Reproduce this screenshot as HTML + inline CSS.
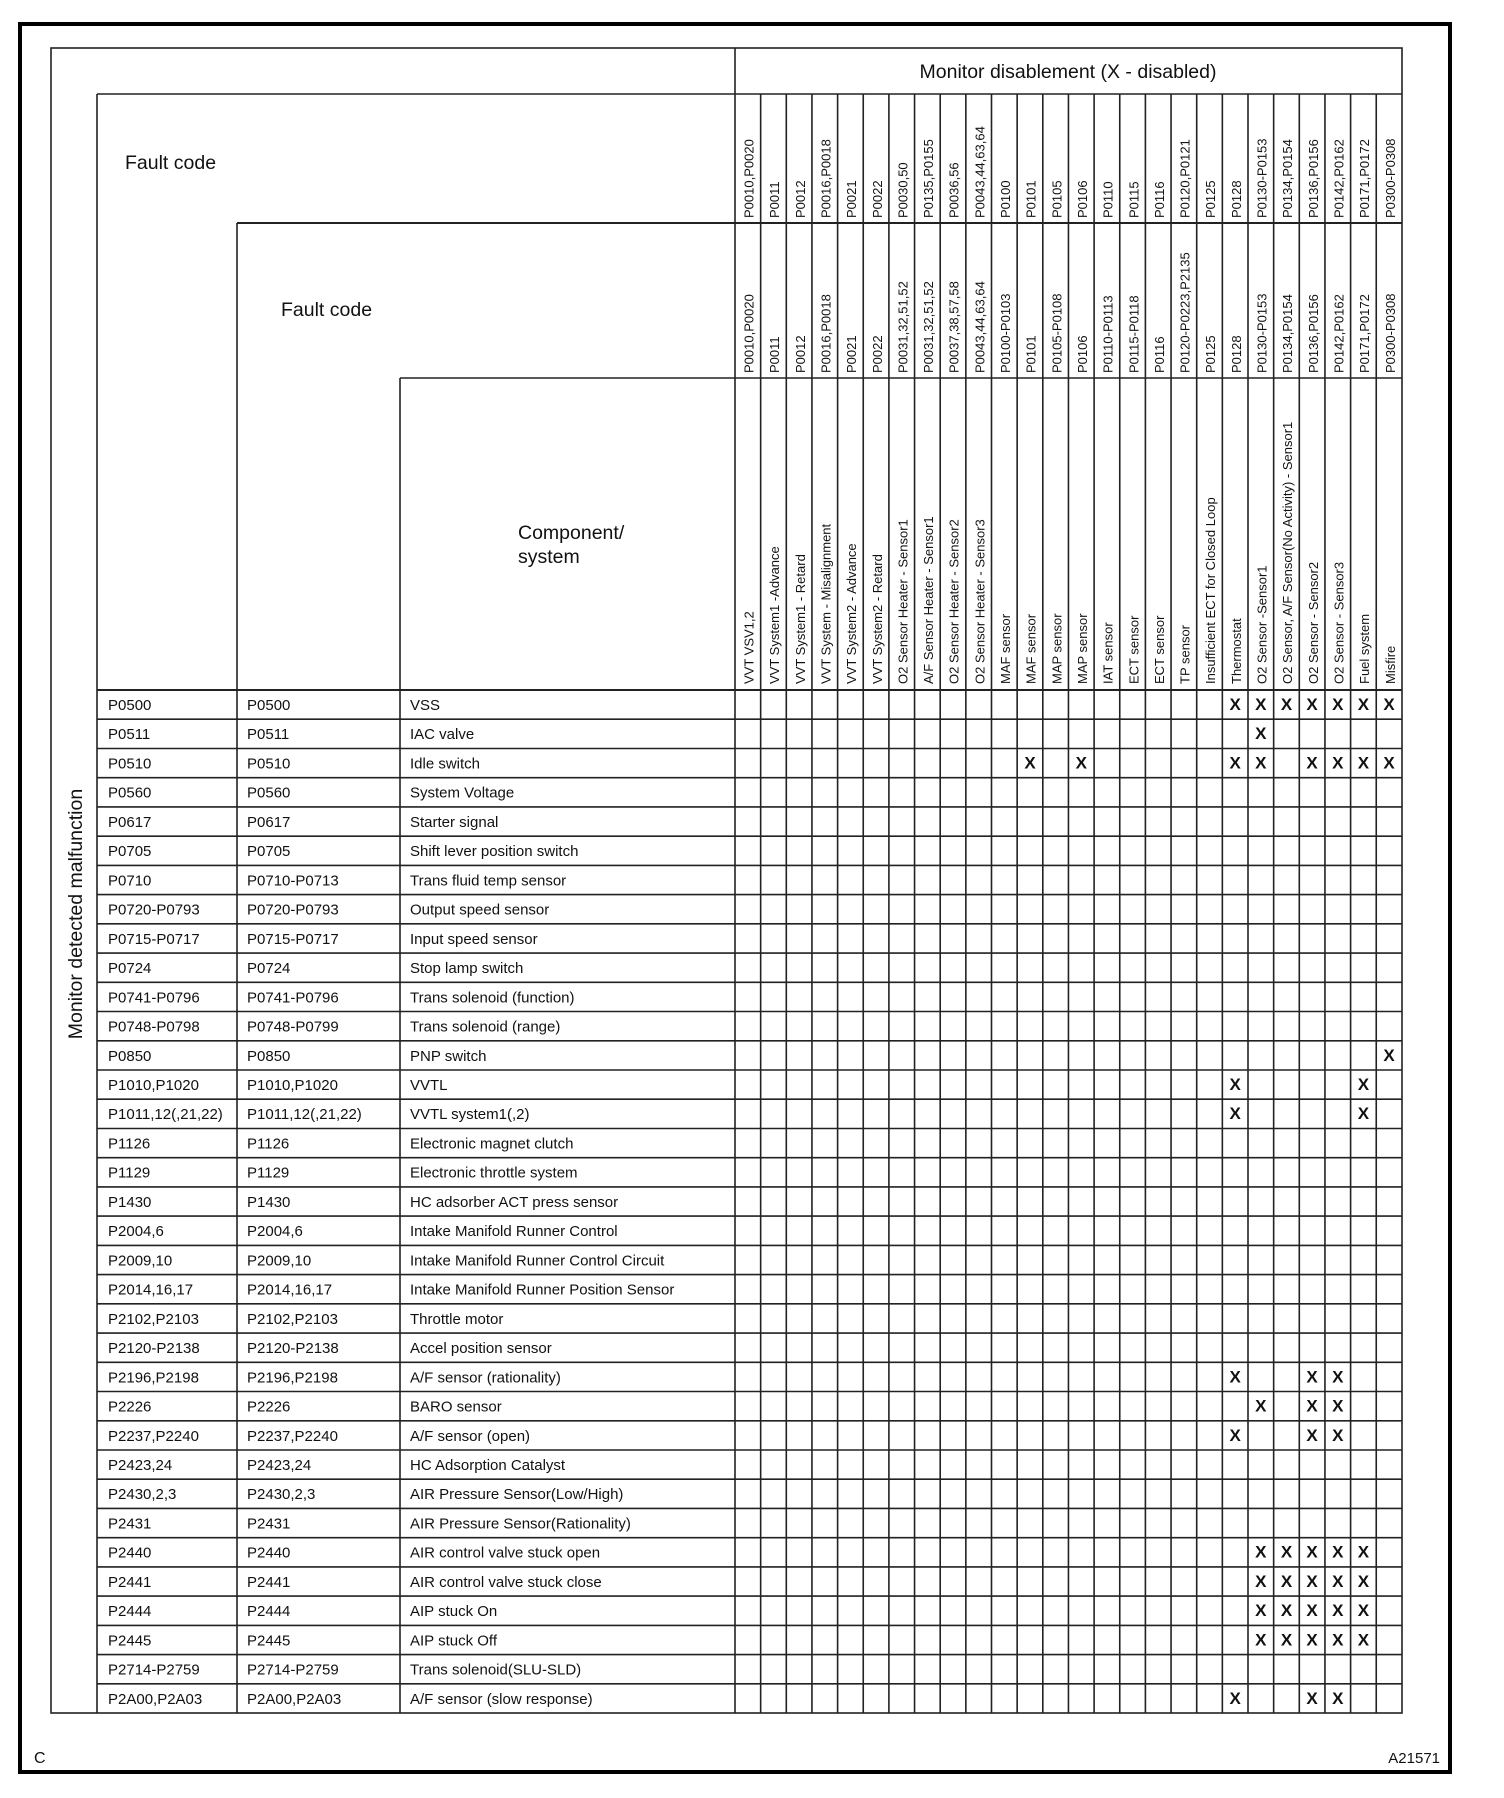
<!DOCTYPE html>
<html><head><meta charset="utf-8"><style>
html,body{margin:0;padding:0;background:#fff;}
svg{display:block;font-family:"Liberation Sans",sans-serif;}
.d{font-size:15px;fill:#111;}
.r{font-size:13px;fill:#111;}
.x{font-size:17px;font-weight:bold;fill:#111;text-anchor:middle;}
</style></head><body>
<svg width="1504" height="1798" viewBox="0 0 1504 1798" xmlns="http://www.w3.org/2000/svg">
<rect x="20" y="24" width="1430" height="1748" fill="none" stroke="#000" stroke-width="4"/>
<g stroke="#222" stroke-width="1.6" fill="none">
<rect x="51" y="48" width="1351" height="1665"/>
<line x1="735" y1="48" x2="735" y2="1713"/>
<line x1="97" y1="94" x2="1402" y2="94"/>
<line x1="97" y1="94" x2="97" y2="1713"/>
<line x1="237" y1="223" x2="1402" y2="223" stroke-width="2"/>
<line x1="237" y1="223" x2="237" y2="1713"/>
<line x1="400" y1="378" x2="1402" y2="378"/>
<line x1="400" y1="378" x2="400" y2="1713"/>
<line x1="97" y1="690" x2="1402" y2="690" stroke-width="2"/>
<path d="M760.65 94V1713M786.3 94V1713M811.95 94V1713M837.6 94V1713M863.25 94V1713M888.9 94V1713M914.55 94V1713M940.2 94V1713M965.85 94V1713M991.5 94V1713M1017.15 94V1713M1042.8 94V1713M1068.45 94V1713M1094.1 94V1713M1119.75 94V1713M1145.4 94V1713M1171.05 94V1713M1196.7 94V1713M1222.35 94V1713M1248 94V1713M1273.65 94V1713M1299.3 94V1713M1324.95 94V1713M1350.6 94V1713M1376.25 94V1713"/>
<path d="M97 719.2H1402M97 748.5H1402M97 777.7H1402M97 806.9H1402M97 836.2H1402M97 865.4H1402M97 894.6H1402M97 923.8H1402M97 953.1H1402M97 982.3H1402M97 1011.5H1402M97 1040.8H1402M97 1070H1402M97 1099.2H1402M97 1128.5H1402M97 1157.7H1402M97 1186.9H1402M97 1216.1H1402M97 1245.4H1402M97 1274.6H1402M97 1303.8H1402M97 1333.1H1402M97 1362.3H1402M97 1391.5H1402M97 1420.8H1402M97 1450H1402M97 1479.2H1402M97 1508.4H1402M97 1537.7H1402M97 1566.9H1402M97 1596.1H1402M97 1625.4H1402M97 1654.6H1402M97 1683.8H1402"/>
</g>
<text x="1068" y="78" font-size="19.5" text-anchor="middle" fill="#111">Monitor disablement (X - disabled)</text>
<text x="125" y="169" font-size="19.5" fill="#111">Fault code</text>
<text x="281" y="316" font-size="19.5" fill="#111">Fault code</text>
<text x="518" y="539" font-size="19.5" fill="#111">Component/</text>
<text x="518" y="563" font-size="19.5" fill="#111">system</text>
<text transform="translate(82,914) rotate(-90)" font-size="19.5" text-anchor="middle" fill="#111">Monitor detected malfunction</text>
<text x="34" y="1763" font-size="16" fill="#111">C</text>
<text x="1440" y="1763" font-size="15" text-anchor="end" fill="#111">A21571</text>

<g class="r">
<text transform="translate(753.5,218) rotate(-90)">P0010,P0020</text>
<text transform="translate(779.15,218) rotate(-90)">P0011</text>
<text transform="translate(804.8,218) rotate(-90)">P0012</text>
<text transform="translate(830.45,218) rotate(-90)">P0016,P0018</text>
<text transform="translate(856.1,218) rotate(-90)">P0021</text>
<text transform="translate(881.75,218) rotate(-90)">P0022</text>
<text transform="translate(907.4,218) rotate(-90)">P0030,50</text>
<text transform="translate(933.05,218) rotate(-90)">P0135,P0155</text>
<text transform="translate(958.7,218) rotate(-90)">P0036,56</text>
<text transform="translate(984.35,218) rotate(-90)">P0043,44,63,64</text>
<text transform="translate(1010,218) rotate(-90)">P0100</text>
<text transform="translate(1035.65,218) rotate(-90)">P0101</text>
<text transform="translate(1061.3,218) rotate(-90)">P0105</text>
<text transform="translate(1086.95,218) rotate(-90)">P0106</text>
<text transform="translate(1112.6,218) rotate(-90)">P0110</text>
<text transform="translate(1138.25,218) rotate(-90)">P0115</text>
<text transform="translate(1163.9,218) rotate(-90)">P0116</text>
<text transform="translate(1189.55,218) rotate(-90)">P0120,P0121</text>
<text transform="translate(1215.2,218) rotate(-90)">P0125</text>
<text transform="translate(1240.85,218) rotate(-90)">P0128</text>
<text transform="translate(1266.5,218) rotate(-90)">P0130-P0153</text>
<text transform="translate(1292.15,218) rotate(-90)">P0134,P0154</text>
<text transform="translate(1317.8,218) rotate(-90)">P0136,P0156</text>
<text transform="translate(1343.45,218) rotate(-90)">P0142,P0162</text>
<text transform="translate(1369.1,218) rotate(-90)">P0171,P0172</text>
<text transform="translate(1394.75,218) rotate(-90)">P0300-P0308</text>

<text transform="translate(753.5,373) rotate(-90)">P0010,P0020</text>
<text transform="translate(779.15,373) rotate(-90)">P0011</text>
<text transform="translate(804.8,373) rotate(-90)">P0012</text>
<text transform="translate(830.45,373) rotate(-90)">P0016,P0018</text>
<text transform="translate(856.1,373) rotate(-90)">P0021</text>
<text transform="translate(881.75,373) rotate(-90)">P0022</text>
<text transform="translate(907.4,373) rotate(-90)">P0031,32,51,52</text>
<text transform="translate(933.05,373) rotate(-90)">P0031,32,51,52</text>
<text transform="translate(958.7,373) rotate(-90)">P0037,38,57,58</text>
<text transform="translate(984.35,373) rotate(-90)">P0043,44,63,64</text>
<text transform="translate(1010,373) rotate(-90)">P0100-P0103</text>
<text transform="translate(1035.65,373) rotate(-90)">P0101</text>
<text transform="translate(1061.3,373) rotate(-90)">P0105-P0108</text>
<text transform="translate(1086.95,373) rotate(-90)">P0106</text>
<text transform="translate(1112.6,373) rotate(-90)">P0110-P0113</text>
<text transform="translate(1138.25,373) rotate(-90)">P0115-P0118</text>
<text transform="translate(1163.9,373) rotate(-90)">P0116</text>
<text transform="translate(1189.55,373) rotate(-90)">P0120-P0223,P2135</text>
<text transform="translate(1215.2,373) rotate(-90)">P0125</text>
<text transform="translate(1240.85,373) rotate(-90)">P0128</text>
<text transform="translate(1266.5,373) rotate(-90)">P0130-P0153</text>
<text transform="translate(1292.15,373) rotate(-90)">P0134,P0154</text>
<text transform="translate(1317.8,373) rotate(-90)">P0136,P0156</text>
<text transform="translate(1343.45,373) rotate(-90)">P0142,P0162</text>
<text transform="translate(1369.1,373) rotate(-90)">P0171,P0172</text>
<text transform="translate(1394.75,373) rotate(-90)">P0300-P0308</text>

<text transform="translate(753.5,684) rotate(-90)">VVT VSV1,2</text>
<text transform="translate(779.15,684) rotate(-90)">VVT System1 -Advance</text>
<text transform="translate(804.8,684) rotate(-90)">VVT System1 - Retard</text>
<text transform="translate(830.45,684) rotate(-90)">VVT System - Misalignment</text>
<text transform="translate(856.1,684) rotate(-90)">VVT System2 - Advance</text>
<text transform="translate(881.75,684) rotate(-90)">VVT System2 - Retard</text>
<text transform="translate(907.4,684) rotate(-90)">O2 Sensor  Heater - Sensor1</text>
<text transform="translate(933.05,684) rotate(-90)">A/F Sensor Heater - Sensor1</text>
<text transform="translate(958.7,684) rotate(-90)">O2 Sensor Heater - Sensor2</text>
<text transform="translate(984.35,684) rotate(-90)">O2 Sensor Heater  - Sensor3</text>
<text transform="translate(1010,684) rotate(-90)">MAF sensor</text>
<text transform="translate(1035.65,684) rotate(-90)">MAF sensor</text>
<text transform="translate(1061.3,684) rotate(-90)">MAP sensor</text>
<text transform="translate(1086.95,684) rotate(-90)">MAP sensor</text>
<text transform="translate(1112.6,684) rotate(-90)">IAT sensor</text>
<text transform="translate(1138.25,684) rotate(-90)">ECT sensor</text>
<text transform="translate(1163.9,684) rotate(-90)">ECT sensor</text>
<text transform="translate(1189.55,684) rotate(-90)">TP sensor</text>
<text transform="translate(1215.2,684) rotate(-90)">Insufficient ECT for Closed Loop</text>
<text transform="translate(1240.85,684) rotate(-90)">Thermostat</text>
<text transform="translate(1266.5,684) rotate(-90)">O2 Sensor -Sensor1</text>
<text transform="translate(1292.15,684) rotate(-90)">O2 Sensor, A/F Sensor(No Activity) - Sensor1</text>
<text transform="translate(1317.8,684) rotate(-90)">O2 Sensor - Sensor2</text>
<text transform="translate(1343.45,684) rotate(-90)">O2 Sensor - Sensor3</text>
<text transform="translate(1369.1,684) rotate(-90)">Fuel system</text>
<text transform="translate(1394.75,684) rotate(-90)">Misfire</text>
</g>

<g class="d">
<text x="108" y="710">P0500</text><text x="247" y="710">P0500</text><text x="410" y="710">VSS</text>
<text x="108" y="739.2">P0511</text><text x="247" y="739.2">P0511</text><text x="410" y="739.2">IAC valve</text>
<text x="108" y="768.5">P0510</text><text x="247" y="768.5">P0510</text><text x="410" y="768.5">Idle switch</text>
<text x="108" y="797.7">P0560</text><text x="247" y="797.7">P0560</text><text x="410" y="797.7">System Voltage</text>
<text x="108" y="826.9">P0617</text><text x="247" y="826.9">P0617</text><text x="410" y="826.9">Starter signal</text>
<text x="108" y="856.2">P0705</text><text x="247" y="856.2">P0705</text><text x="410" y="856.2">Shift lever position switch</text>
<text x="108" y="885.4">P0710</text><text x="247" y="885.4">P0710-P0713</text><text x="410" y="885.4">Trans fluid temp sensor</text>
<text x="108" y="914.6">P0720-P0793</text><text x="247" y="914.6">P0720-P0793</text><text x="410" y="914.6">Output speed sensor</text>
<text x="108" y="943.8">P0715-P0717</text><text x="247" y="943.8">P0715-P0717</text><text x="410" y="943.8">Input speed sensor</text>
<text x="108" y="973.1">P0724</text><text x="247" y="973.1">P0724</text><text x="410" y="973.1">Stop lamp switch</text>
<text x="108" y="1002.3">P0741-P0796</text><text x="247" y="1002.3">P0741-P0796</text><text x="410" y="1002.3">Trans solenoid (function)</text>
<text x="108" y="1031.5">P0748-P0798</text><text x="247" y="1031.5">P0748-P0799</text><text x="410" y="1031.5">Trans solenoid (range)</text>
<text x="108" y="1060.8">P0850</text><text x="247" y="1060.8">P0850</text><text x="410" y="1060.8">PNP switch</text>
<text x="108" y="1090">P1010,P1020</text><text x="247" y="1090">P1010,P1020</text><text x="410" y="1090">VVTL</text>
<text x="108" y="1119.2">P1011,12(,21,22)</text><text x="247" y="1119.2">P1011,12(,21,22)</text><text x="410" y="1119.2">VVTL system1(,2)</text>
<text x="108" y="1148.5">P1126</text><text x="247" y="1148.5">P1126</text><text x="410" y="1148.5">Electronic magnet clutch</text>
<text x="108" y="1177.7">P1129</text><text x="247" y="1177.7">P1129</text><text x="410" y="1177.7">Electronic throttle system</text>
<text x="108" y="1206.9">P1430</text><text x="247" y="1206.9">P1430</text><text x="410" y="1206.9">HC adsorber ACT press sensor</text>
<text x="108" y="1236.1">P2004,6</text><text x="247" y="1236.1">P2004,6</text><text x="410" y="1236.1">Intake Manifold Runner Control</text>
<text x="108" y="1265.4">P2009,10</text><text x="247" y="1265.4">P2009,10</text><text x="410" y="1265.4">Intake Manifold Runner Control Circuit</text>
<text x="108" y="1294.6">P2014,16,17</text><text x="247" y="1294.6">P2014,16,17</text><text x="410" y="1294.6">Intake Manifold Runner Position Sensor</text>
<text x="108" y="1323.8">P2102,P2103</text><text x="247" y="1323.8">P2102,P2103</text><text x="410" y="1323.8">Throttle motor</text>
<text x="108" y="1353.1">P2120-P2138</text><text x="247" y="1353.1">P2120-P2138</text><text x="410" y="1353.1">Accel position sensor</text>
<text x="108" y="1382.3">P2196,P2198</text><text x="247" y="1382.3">P2196,P2198</text><text x="410" y="1382.3">A/F sensor (rationality)</text>
<text x="108" y="1411.5">P2226</text><text x="247" y="1411.5">P2226</text><text x="410" y="1411.5">BARO sensor</text>
<text x="108" y="1440.8">P2237,P2240</text><text x="247" y="1440.8">P2237,P2240</text><text x="410" y="1440.8">A/F sensor (open)</text>
<text x="108" y="1470">P2423,24</text><text x="247" y="1470">P2423,24</text><text x="410" y="1470">HC Adsorption Catalyst</text>
<text x="108" y="1499.2">P2430,2,3</text><text x="247" y="1499.2">P2430,2,3</text><text x="410" y="1499.2">AIR Pressure Sensor(Low/High)</text>
<text x="108" y="1528.4">P2431</text><text x="247" y="1528.4">P2431</text><text x="410" y="1528.4">AIR Pressure Sensor(Rationality)</text>
<text x="108" y="1557.7">P2440</text><text x="247" y="1557.7">P2440</text><text x="410" y="1557.7">AIR control valve stuck open</text>
<text x="108" y="1586.9">P2441</text><text x="247" y="1586.9">P2441</text><text x="410" y="1586.9">AIR control valve stuck close</text>
<text x="108" y="1616.1">P2444</text><text x="247" y="1616.1">P2444</text><text x="410" y="1616.1">AIP stuck On</text>
<text x="108" y="1645.4">P2445</text><text x="247" y="1645.4">P2445</text><text x="410" y="1645.4">AIP stuck Off</text>
<text x="108" y="1674.6">P2714-P2759</text><text x="247" y="1674.6">P2714-P2759</text><text x="410" y="1674.6">Trans solenoid(SLU-SLD)</text>
<text x="108" y="1703.8">P2A00,P2A03</text><text x="247" y="1703.8">P2A00,P2A03</text><text x="410" y="1703.8">A/F sensor (slow response)</text>
</g>

<g class="x">
<text x="1235.2" y="710">X</text><text x="1260.8" y="710">X</text><text x="1286.5" y="710">X</text><text x="1312.1" y="710">X</text><text x="1337.8" y="710">X</text><text x="1363.4" y="710">X</text><text x="1389.1" y="710">X</text>
<text x="1260.8" y="739.2">X</text>
<text x="1030" y="768.5">X</text><text x="1081.3" y="768.5">X</text><text x="1235.2" y="768.5">X</text><text x="1260.8" y="768.5">X</text><text x="1312.1" y="768.5">X</text><text x="1337.8" y="768.5">X</text><text x="1363.4" y="768.5">X</text><text x="1389.1" y="768.5">X</text>
<text x="1389.1" y="1060.8">X</text>
<text x="1235.2" y="1090">X</text><text x="1363.4" y="1090">X</text>
<text x="1235.2" y="1119.2">X</text><text x="1363.4" y="1119.2">X</text>
<text x="1235.2" y="1382.3">X</text><text x="1312.1" y="1382.3">X</text><text x="1337.8" y="1382.3">X</text>
<text x="1260.8" y="1411.5">X</text><text x="1312.1" y="1411.5">X</text><text x="1337.8" y="1411.5">X</text>
<text x="1235.2" y="1440.8">X</text><text x="1312.1" y="1440.8">X</text><text x="1337.8" y="1440.8">X</text>
<text x="1260.8" y="1557.7">X</text><text x="1286.5" y="1557.7">X</text><text x="1312.1" y="1557.7">X</text><text x="1337.8" y="1557.7">X</text><text x="1363.4" y="1557.7">X</text>
<text x="1260.8" y="1586.9">X</text><text x="1286.5" y="1586.9">X</text><text x="1312.1" y="1586.9">X</text><text x="1337.8" y="1586.9">X</text><text x="1363.4" y="1586.9">X</text>
<text x="1260.8" y="1616.1">X</text><text x="1286.5" y="1616.1">X</text><text x="1312.1" y="1616.1">X</text><text x="1337.8" y="1616.1">X</text><text x="1363.4" y="1616.1">X</text>
<text x="1260.8" y="1645.4">X</text><text x="1286.5" y="1645.4">X</text><text x="1312.1" y="1645.4">X</text><text x="1337.8" y="1645.4">X</text><text x="1363.4" y="1645.4">X</text>
<text x="1235.2" y="1703.8">X</text><text x="1312.1" y="1703.8">X</text><text x="1337.8" y="1703.8">X</text>
</g>
</svg>
</body></html>
